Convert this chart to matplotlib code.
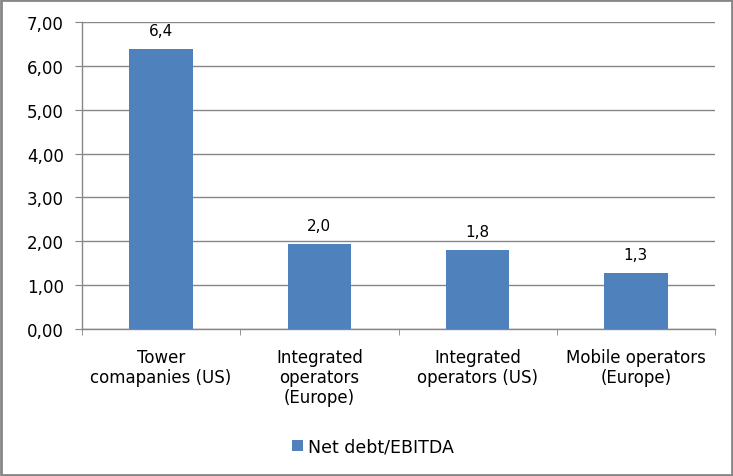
import matplotlib
matplotlib.use("Agg")
import matplotlib.pyplot as plt
from matplotlib.patches import Rectangle
from matplotlib.ticker import FixedLocator, FuncFormatter

plt.rcParams["font.family"] = ["DejaVu Sans"]

categories = ["Tower\ncomapanies (US)", "Integrated\noperators\n(Europe)",
              "Integrated\noperators (US)", "Mobile operators\n(Europe)"]
values = [6.38, 1.94, 1.80, 1.28]
labels = ["6,4", "2,0", "1,8", "1,3"]
series_name = "Net debt/EBITDA"

bar_color = "#4F81BD"
grid_color = "#868686"

fig = plt.figure(figsize=(7.33, 4.77), dpi=100)
fig.patch.set_facecolor("white")
fig.patches.append(Rectangle((0.002, 0.003), 0.996, 0.994, transform=fig.transFigure,
                             fill=False, edgecolor="#868686", linewidth=2))

ax = fig.add_axes([82/733, 1-330/477, 633/733, 307/477])
x = list(range(len(categories)))
bars = ax.bar(x, values, width=0.4, color=bar_color, zorder=3, label=series_name)
ax.set_xlim(-0.5, len(categories) - 0.5)
ax.set_ylim(0, 7)
ax.yaxis.set_major_locator(FixedLocator([0, 1, 2, 3, 4, 5, 6, 7]))
ax.yaxis.set_major_formatter(FuncFormatter(lambda v, p: f"{v:.2f}".replace(".", ",")))
ax.grid(axis="y", color=grid_color, linewidth=1, zorder=0)
for s in ["top", "right"]:
    ax.spines[s].set_visible(False)
for s in ["left", "bottom"]:
    ax.spines[s].set_color(grid_color)
    ax.spines[s].set_linewidth(1)

ax.set_xticks(x)
ax.set_xticklabels(categories, fontsize=12, linespacing=1.12)
ax.tick_params(axis="x", length=0, pad=14)
ax.set_xticks([i + 0.5 for i in range(-1, len(categories))], minor=True)
ax.tick_params(axis="x", which="minor", length=4.5, color=grid_color)
ax.tick_params(axis="y", length=5, color=grid_color, labelsize=12, pad=8)

for b, lab in zip(bars, labels):
    ax.annotate(lab, (b.get_x() + b.get_width()/2, b.get_height()),
                xytext=(0, 8), textcoords="offset points",
                ha="center", va="bottom", fontsize=11)

fig.legend(handles=[bars], labels=[series_name], loc="center",
           bbox_to_anchor=(373/733, 1-448/477), frameon=False, fontsize=12.5,
           handlelength=0.6, handleheight=0.6, handletextpad=0.3)

fig.savefig("out.png", dpi=100)
